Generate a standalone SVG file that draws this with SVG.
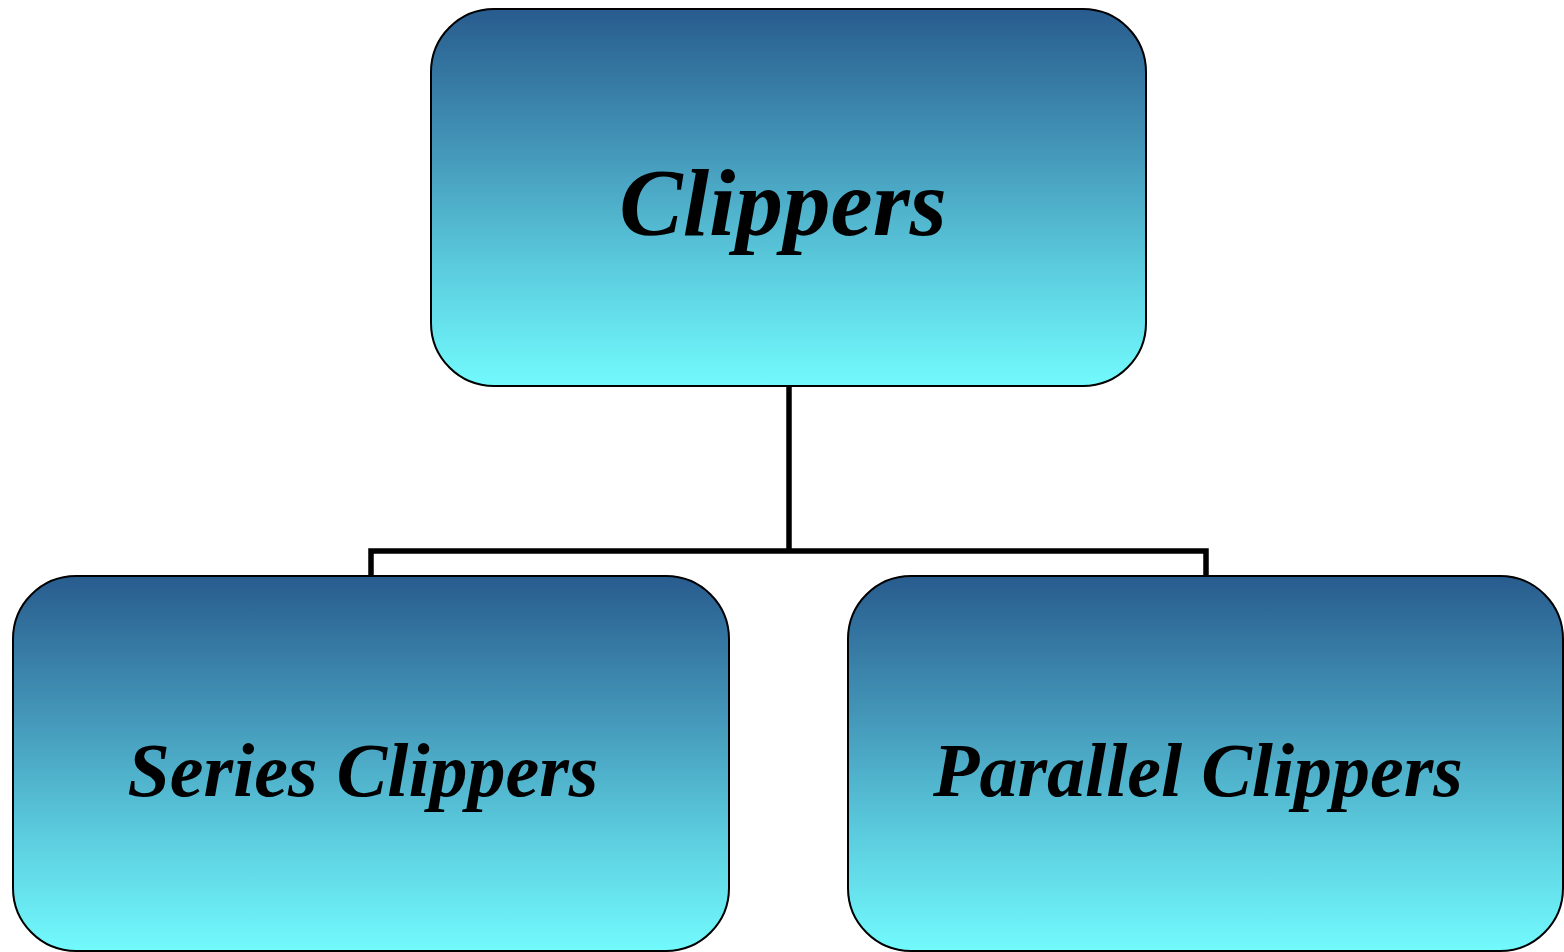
<svg xmlns="http://www.w3.org/2000/svg" width="1564" height="952" viewBox="0 0 1564 952">
<defs>
<linearGradient id="g" x1="0" y1="0" x2="0" y2="1">
<stop offset="0" stop-color="#285C8E"/>
<stop offset="0.35" stop-color="#4293B6"/>
<stop offset="0.7" stop-color="#5CCEDF"/>
<stop offset="1" stop-color="#72FAFD"/>
</linearGradient>
<style>
.box{fill:url(#g);stroke:#000;stroke-width:2}
.lbl{font-family:"Liberation Serif","Times New Roman",serif;font-weight:bold;font-style:italic;fill:#000;text-anchor:middle}
.con{fill:none;stroke:#000;stroke-width:5.5}
</style>
</defs>
<g id="connectors">
<path class="con" d="M789 386 V551"/>
<path class="con" d="M371 576 V551 H1206 V576"/>
</g>
<g id="node-clippers">
<rect class="box" x="431" y="9" width="715" height="377" rx="63" ry="63"/>
<text class="lbl" x="783" y="235" font-size="95">Clippers</text>
</g>
<g id="node-series">
<rect class="box" x="13" y="576" width="716" height="375" rx="63" ry="63"/>
<text class="lbl" x="363" y="796" font-size="76">Series Clippers</text>
</g>
<g id="node-parallel">
<rect class="box" x="848" y="576" width="715" height="375" rx="63" ry="63"/>
<text class="lbl" x="1198" y="796" font-size="76">Parallel Clippers</text>
</g>
</svg>
